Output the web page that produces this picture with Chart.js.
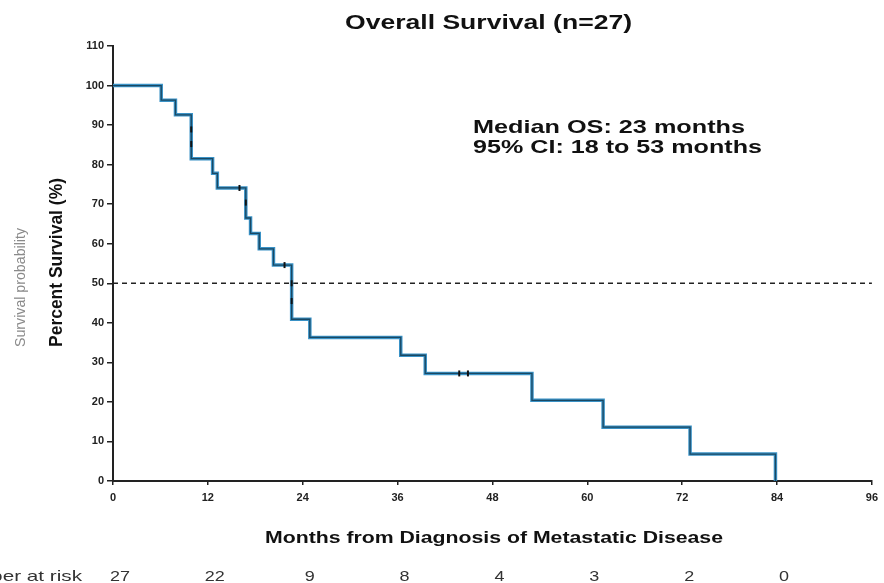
<!DOCTYPE html>
<html>
<head>
<meta charset="utf-8">
<script src="https://cdn.jsdelivr.net/npm/chart.js@4.4.1/dist/chart.umd.min.js"></script>
<style>
  html, body { margin: 0; padding: 0; background: #fff; }
  #wrap { width: 884px; height: 583px; position: relative; }
</style>
</head>
<body>
<div id="wrap"><canvas id="c" width="884" height="583"></canvas></div>
<script>
// ---- data ----
const eventMonths = [0, 6.1, 7.9, 9.9, 12.6, 13.2, 16.8, 17.4, 18.5, 20.3, 22.6, 24.9, 36.4, 39.5, 53.0, 62.0, 73.0, 83.8];
const survivalPct = [100, 96.3, 92.6, 81.5, 77.8, 74.1, 66.5, 62.6, 58.7, 54.6, 40.9, 36.3, 31.8, 27.2, 20.4, 13.6, 6.8, 0];
const censorMonths = [9.9, 9.9, 16.0, 16.8, 21.7, 22.6, 22.6, 43.8, 44.9];
const censorPct    = [88.9, 85.2, 74.1, 70.4, 54.6, 50.0, 45.5, 27.2, 27.2];
const medianLine = [50, 50];
const medianLineMonths = [0, 96];
const riskMonths = [0, 12, 24, 36, 48, 60, 72, 84];
const riskCounts = [27, 22, 9, 8, 4, 3, 2, 0];
const xTicks = [0, 12, 24, 36, 48, 60, 72, 84, 96];
const yTicks = [0, 10, 20, 30, 40, 50, 60, 70, 80, 90, 100, 110];
const titleText = 'Overall Survival (n=27)';
const noteLines = ['Median OS: 23 months', '95% CI: 18 to 53 months'];
const xTitle = 'Months from Diagnosis of Metastatic Disease';
const yTitle = 'Percent Survival (%)';
const yTitle2 = 'Survival probability';
const riskLabel = 'Number at risk';

const curve = eventMonths.map((m, i) => ({ x: m, y: survivalPct[i] }));
const censors = censorMonths.map((m, i) => ({ x: m, y: censorPct[i] }));
const median = medianLineMonths.map((m, i) => ({ x: m, y: medianLine[i] }));

function stretchText(ctx, s, x, y, font, color, width, align, scaleY, scaleX) {
  ctx.save();
  ctx.font = font;
  ctx.fillStyle = color;
  const m = ctx.measureText(s).width;
  const sx = width ? width / m : (scaleX || 1);
  ctx.translate(x, y);
  ctx.scale(sx, scaleY || 1);
  ctx.textAlign = align || 'left';
  ctx.textBaseline = 'alphabetic';
  ctx.fillText(s, 0, 0);
  ctx.restore();
}

const textPlugin = {
  id: 'texts',
  afterDraw(chart) {
    const ctx = chart.ctx;
    const xs = chart.scales.x;
    const F = 'Arial, "Liberation Sans", sans-serif';
    stretchText(ctx, titleText, 345, 29, 'bold 20px ' + F, '#111', 287, 'left');
    stretchText(ctx, noteLines[0], 473, 133, 'bold 19px ' + F, '#111', 272, 'left');
    stretchText(ctx, noteLines[1], 473, 153, 'bold 19px ' + F, '#111', 289, 'left');
    stretchText(ctx, xTitle, 265, 543, 'bold 16px ' + F, '#111', 458, 'left');
    ctx.save();
    ctx.translate(62, 347);
    ctx.rotate(-Math.PI / 2);
    stretchText(ctx, yTitle, 0, 0, 'bold 16px ' + F, '#111', 169, 'left', 1.15);
    ctx.restore();
    ctx.save();
    ctx.translate(25, 347);
    ctx.rotate(-Math.PI / 2);
    stretchText(ctx, yTitle2, 0, 0, '14px ' + F, '#8a8a8a', 119, 'left', 1.1);
    ctx.restore();
    stretchText(ctx, riskLabel, 82, 581, '15px ' + F, '#333', null, 'right', 1, 1.38);
    riskMonths.forEach((m, i) => {
      const px = xs.getPixelForValue(m) + 7;
      stretchText(ctx, String(riskCounts[i]), px, 581, '15px ' + F, '#333', null, 'center', 1, 1.2);
    });
  }
};

new Chart(document.getElementById('c'), {
  type: 'line',
  data: {
    datasets: [
      {
        data: median,
        order: 4,
        borderColor: '#222',
        borderWidth: 1.5,
        borderDash: [5, 4],
        pointRadius: 0,
        fill: false
      },
      {
        data: curve,
        order: 3,
        stepped: true,
        borderColor: '#3a92c6',
        borderWidth: 3.5,
        pointRadius: 0,
        fill: false
      },
      {
        data: curve,
        order: 2,
        stepped: true,
        borderColor: '#1a4863',
        borderWidth: 1.3,
        pointRadius: 0,
        fill: false
      },
      {
        type: 'scatter',
        order: 1,
        data: censors,
        pointStyle: 'line',
        rotation: 90,
        pointRadius: 3,
        borderColor: '#111',
        borderWidth: 2,
        showLine: false
      }
    ]
  },
  options: {
    responsive: false,
    animation: false,
    layout: { padding: { top: 46, right: 7, left: 0, bottom: 0 } },
    plugins: { legend: { display: false }, tooltip: { enabled: false }, title: { display: false } },
    scales: {
      x: {
        type: 'linear',
        min: 0, max: 96,
        afterBuildTicks(s) { s.ticks = xTicks.map(v => ({ value: v })); },
        afterFit(s) { s.height = 102; },
        grid: { drawOnChartArea: false, drawTicks: true, tickLength: 4, color: '#222', lineWidth: 1.5 },
        border: { display: true, color: '#222', width: 2 },
        ticks: { color: '#222', padding: 6, font: { family: 'Arial', weight: 'bold', size: 11 }, maxRotation: 0 }
      },
      y: {
        type: 'linear',
        min: 0, max: 110,
        afterBuildTicks(s) { s.ticks = yTicks.map(v => ({ value: v })); },
        afterFit(s) { s.width = 113; },
        grid: { drawOnChartArea: false, drawTicks: true, tickLength: 6, color: '#222', lineWidth: 1.5 },
        border: { display: true, color: '#222', width: 2 },
        ticks: { color: '#222', padding: 3, font: { family: 'Arial', weight: 'bold', size: 11 } }
      }
    }
  },
  plugins: [textPlugin]
});
</script>
</body>
</html>
